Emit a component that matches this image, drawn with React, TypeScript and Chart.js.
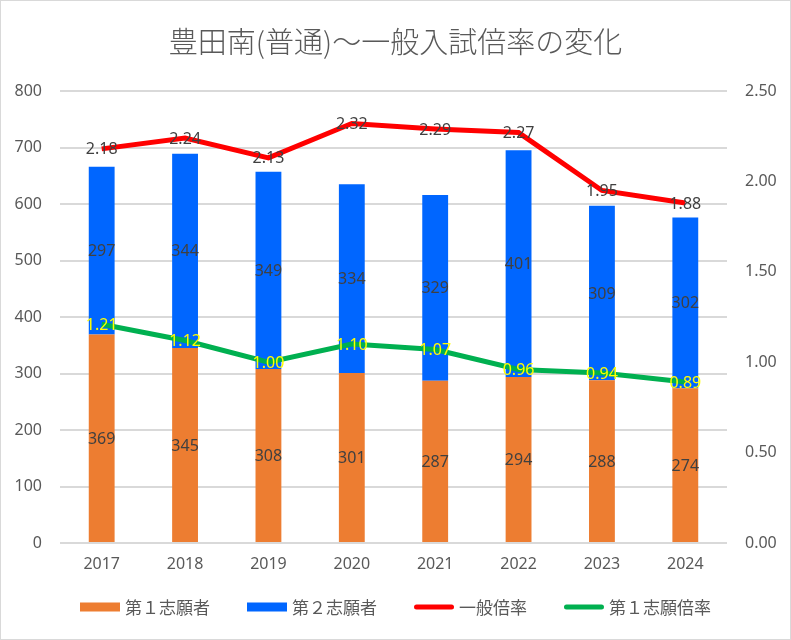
import React, { useEffect, useRef } from "react";
import { Chart, registerables } from "chart.js";

Chart.register(...registerables);

const years = ["2017", "2018", "2019", "2020", "2021", "2022", "2023", "2024"];
const firstChoice = [369, 345, 308, 301, 287, 294, 288, 274];
const secondChoice = [297, 344, 349, 334, 329, 401, 309, 302];
const generalRatio = [2.18, 2.24, 2.13, 2.32, 2.29, 2.27, 1.95, 1.88];
const firstRatio = [1.21, 1.12, 1.0, 1.1, 1.07, 0.96, 0.94, 0.89];
const titleText = "豊田南(普通)～一般入試倍率の変化";
const legendOrder = ["第１志願者", "第２志願者", "一般倍率", "第１志願倍率"];

const FONT = "'Noto Sans', 'Noto Sans CJK JP', sans-serif";
const JFONT = "'Noto Sans CJK JP', 'Noto Sans', sans-serif";

const labelPlugin = {
  id: "valueLabels",
  afterDatasetsDraw(chart: any) {
    const ctx = chart.ctx;
    ctx.save();
    ctx.textAlign = "center";
    ctx.textBaseline = "middle";
    ctx.font = `16px ${FONT}`;
    chart.data.datasets.forEach((ds: any, di: number) => {
      const meta = chart.getDatasetMeta(di);
      if (meta.hidden) return;
      meta.data.forEach((el: any, i: number) => {
        const v = ds.data[i];
        let x = el.x;
        let y = el.y;
        let text = String(v);
        if (ds.type === "line") {
          text = Number(v).toFixed(2);
          ctx.fillStyle = ds.labelColor;
        } else {
          const c = el.getCenterPoint();
          x = c.x;
          y = c.y;
          ctx.fillStyle = "#404040";
        }
        ctx.fillText(text, x, y + 1);
      });
    });
    ctx.restore();
  },
};

const legendPlugin = {
  id: "customLegend",
  afterDraw(chart: any) {
    const ctx = chart.ctx;
    ctx.save();
    ctx.font = `17px ${JFONT}`;
    ctx.textBaseline = "middle";
    ctx.textAlign = "left";
    const boxW = 40;
    const gap = 5;
    const spacing = 37;
    const items = legendOrder.map((name) => {
      const ds = chart.data.datasets.find((d: any) => d.label === name);
      return { name, ds, w: boxW + gap + ctx.measureText(name).width };
    });
    const total = items.reduce((s: number, it: any) => s + it.w, 0) + spacing * (items.length - 1);
    let x = (chart.width - total) / 2;
    const y = 606;
    items.forEach((it: any) => {
      const color = it.ds.type === "line" ? it.ds.borderColor : it.ds.backgroundColor;
      if (it.ds.type === "line") {
        ctx.strokeStyle = color;
        ctx.lineWidth = 5;
        ctx.lineCap = "round";
        ctx.beginPath();
        ctx.moveTo(x + 2.5, y);
        ctx.lineTo(x + boxW - 2.5, y);
        ctx.stroke();
      } else {
        ctx.fillStyle = color;
        ctx.fillRect(x, y - 4.5, boxW, 9);
      }
      ctx.fillStyle = "#595959";
      ctx.fillText(it.name, x + boxW + gap, y + 1);
      x += it.w + spacing;
    });
    ctx.restore();
  },
};

export default function App() {
  const ref = useRef<HTMLCanvasElement | null>(null);
  useEffect(() => {
    if (!ref.current) return;
    const chart = new Chart(ref.current, {
      type: "bar",
      data: {
        labels: years,
        datasets: [
          {
            type: "line",
            label: "一般倍率",
            data: generalRatio,
            borderColor: "#FF0000",
            backgroundColor: "#FF0000",
            borderWidth: 5,
            pointRadius: 0,
            yAxisID: "y1",
            order: 0,
            labelColor: "#404040",
          } as any,
          {
            type: "line",
            label: "第１志願倍率",
            data: firstRatio,
            borderColor: "#00B050",
            backgroundColor: "#00B050",
            borderWidth: 5,
            pointRadius: 0,
            yAxisID: "y1",
            order: 1,
            labelColor: "#FFFF00",
          } as any,
          {
            type: "bar",
            label: "第１志願者",
            data: firstChoice,
            backgroundColor: "#ED7D31",
            yAxisID: "y",
            stack: "s",
            order: 2,
            categoryPercentage: 1,
            barPercentage: 0.31,
          },
          {
            type: "bar",
            label: "第２志願者",
            data: secondChoice,
            backgroundColor: "#0066FF",
            yAxisID: "y",
            stack: "s",
            order: 3,
            categoryPercentage: 1,
            barPercentage: 0.31,
          },
        ],
      },
      options: {
        responsive: false,
        animation: false,
        layout: { padding: { left: 0, right: 0, top: 0, bottom: 56 } },
        plugins: {
          title: {
            display: true,
            text: titleText,
            color: "#595959",
            font: { family: JFONT, size: 29, weight: "300" as any },
            padding: { top: 23.6, bottom: 31.6 },
          },
          legend: { display: false },
          tooltip: { enabled: false },
        },
        scales: {
          x: {
            stacked: true,
            grid: { display: false, drawTicks: false },
            border: { display: false },
            ticks: { color: "#595959", font: { family: FONT, size: 16 }, padding: 12 },
            afterFit: (s: any) => {
              s.height = 40;
            },
          },
          y: {
            stacked: true,
            position: "left",
            min: 0,
            max: 800,
            ticks: { stepSize: 100, color: "#595959", font: { family: FONT, size: 16 }, padding: 18 },
            grid: { color: "#D9D9D9", lineWidth: 2, drawTicks: false },
            border: { display: false },
            afterFit: (s: any) => {
              s.width = 59;
            },
          },
          y1: {
            position: "right",
            min: 0,
            max: 2.5,
            ticks: {
              stepSize: 0.5,
              color: "#595959",
              font: { family: FONT, size: 16 },
              padding: 18,
              callback: (v: any) => Number(v).toFixed(2),
            },
            grid: { display: false, drawTicks: false },
            border: { display: false },
            afterFit: (s: any) => {
              s.width = 63;
            },
          },
        },
      },
      plugins: [labelPlugin, legendPlugin],
    });
    return () => chart.destroy();
  }, []);
  return (
    <div
      style={{
        position: "absolute",
        left: 0,
        top: 0,
        width: 791,
        height: 640,
        boxSizing: "border-box",
        border: "1px solid #D9D9D9",
        background: "#fff",
      }}
    >
      <canvas ref={ref} width={789} height={638} style={{ display: "block" }} />
    </div>
  );
}
